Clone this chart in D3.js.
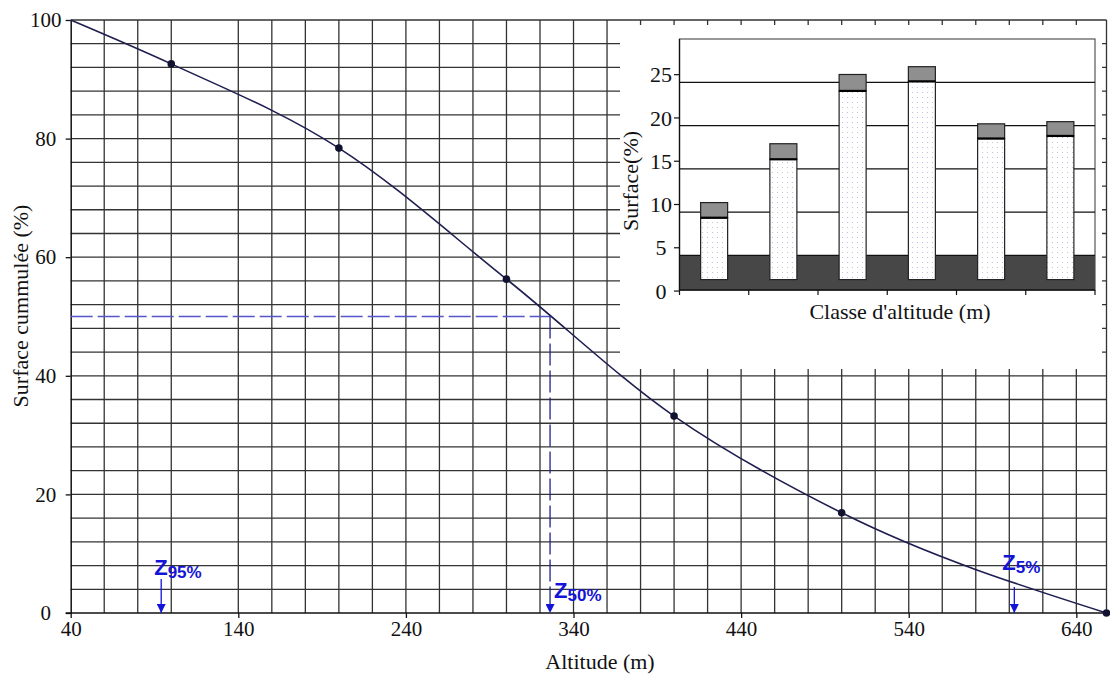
<!DOCTYPE html>
<html>
<head>
<meta charset="utf-8">
<script src="https://cdn.jsdelivr.net/npm/d3@7"></script>
<style>
body { margin: 0; background: #fff; }
svg { display: block; }
text { font-family: "Liberation Serif", "Times New Roman", serif; fill: #111; }
.zlab { font-family: "Liberation Sans", Arial, sans-serif; font-weight: bold; fill: #1414d8; }
</style>
</head>
<body>
<div id="chart"></div>
<script>
// courbe hypsométrique
var altitudes = [40, 100, 200, 300, 400, 500, 658],
    surfaceCum = [100, 92.6, 78.4, 56.3, 33.2, 16.9, 0],
    xTicks = [40, 140, 240, 340, 440, 540, 640],
    yTicks = [0, 20, 40, 60, 80, 100];

// altitudes caractéristiques
var zNames = ['95%', '50%', '5%'],
    zAltitudes = [94, 326, 603];

// histogramme de l'encart
var classes = ['40-100', '100-200', '200-300', '300-400', '400-500', '500-658'],
    lightTops = [9.35, 16.1, 24.0, 25.1, 18.5, 18.8],
    capTops = [11.1, 17.9, 25.9, 26.8, 20.2, 20.45],
    barBase = 2.2,
    floorTop = 5,
    insetGrid = [5, 10, 15, 20, 25],
    insetTicks = [0, 5, 10, 15, 20, 25];

var width = 1110, height = 677,
    svg = d3.select('#chart').append('svg').attr('width', width).attr('height', height),
    defs = svg.append('defs');

var x = d3.scaleLinear().domain([40, 658]).range([70.7, 1106.5]),
    y = d3.scaleLinear().domain([0, 100]).range([613, 20]);

defs.append('marker')
    .attr('id', 'arrow')
    .attr('viewBox', '0 0 10 10')
    .attr('refX', 10).attr('refY', 5)
    .attr('markerUnits', 'userSpaceOnUse')
    .attr('markerWidth', 9).attr('markerHeight', 9)
    .attr('orient', 'auto')
  .append('path')
    .attr('d', 'M0,0L10,5L0,10z')
    .attr('fill', '#1414d8');

var dots = defs.append('pattern')
    .attr('id', 'dots')
    .attr('patternUnits', 'userSpaceOnUse')
    .attr('width', 5).attr('height', 5);
dots.append('rect').attr('width', 5).attr('height', 5).attr('fill', '#fff');
dots.append('circle').attr('cx', 2.5).attr('cy', 2.5).attr('r', 0.6).attr('fill', '#b4b8d6');

// grille
var grid = svg.append('g').attr('stroke', '#333').attr('stroke-width', 1.3);

grid.selectAll('.v')
    .data(d3.range(60, 641, 20).filter(function(d) { return d !== 120; })) // ligne absente sur l'original
    .enter().append('line')
    .attr('class', 'v')
    .attr('x1', x).attr('x2', x)
    .attr('y1', y(0)).attr('y2', y(100));

grid.selectAll('.h')
    .data(d3.range(4, 101, 4))
    .enter().append('line')
    .attr('class', 'h')
    .attr('x1', x(40)).attr('x2', x(658))
    .attr('y1', y).attr('y2', y);

grid.append('line')
    .attr('x1', x(658)).attr('x2', x(658))
    .attr('y1', y(0)).attr('y2', y(100));

// axes
var xAxis = svg.append('g')
    .attr('transform', 'translate(0,' + y(0) + ')')
    .call(d3.axisBottom(x).tickValues(xTicks).tickSize(5).tickSizeOuter(0).tickPadding(3));
xAxis.select('.domain').remove();
xAxis.append('line')
    .attr('x1', x(40) - 5).attr('x2', x(658))
    .attr('stroke', '#111').attr('stroke-width', 1.5);

var yAxis = svg.append('g')
    .attr('transform', 'translate(' + x(40) + ',0)')
    .call(d3.axisLeft(y).tickValues(yTicks).tickSize(5).tickSizeOuter(0));
yAxis.select('.domain').attr('stroke', '#111').attr('stroke-width', 1.5);

svg.selectAll('.tick line').attr('stroke', '#111').attr('stroke-width', 1.3);
svg.selectAll('.tick text')
    .style('font-family', '"Liberation Serif", serif')
    .style('font-size', '21px')
    .attr('fill', '#111');
yAxis.selectAll('.tick text')
    .attr('text-anchor', 'middle')
    .attr('x', -25);

svg.append('text')
    .attr('x', 600).attr('y', 669)
    .attr('text-anchor', 'middle')
    .style('font-size', '22px')
    .text('Altitude (m)');

svg.append('text')
    .attr('transform', 'translate(28,306) rotate(-90)')
    .attr('text-anchor', 'middle')
    .style('font-size', '22px')
    .text('Surface cummulée (%)');

// lecture de l'altitude médiane
var zMed = zAltitudes[1];
svg.append('line')
    .attr('x1', x(40)).attr('x2', x(zMed))
    .attr('y1', y(50)).attr('y2', y(50))
    .attr('stroke', '#5555cc').attr('stroke-width', 1.3)
    .attr('stroke-dasharray', '22,5');
svg.append('line')
    .attr('x1', x(zMed)).attr('x2', x(zMed))
    .attr('y1', y(50)).attr('y2', y(0))
    .attr('stroke', '#22228a').attr('stroke-width', 1.3)
    .attr('stroke-dasharray', '22,5')
    .attr('marker-end', 'url(#arrow)');

// courbe
var pts = altitudes.map(function(a, i) { return [a, surfaceCum[i]]; });
var line = d3.line()
    .x(function(d) { return x(d[0]); })
    .y(function(d) { return y(d[1]); })
    .curve(d3.curveMonotoneX);

svg.append('path')
    .datum(pts)
    .attr('d', line)
    .attr('fill', 'none')
    .attr('stroke', '#1e1e50')
    .attr('stroke-width', 1.6);

svg.selectAll('.pt')
    .data(pts.slice(1))
    .enter().append('circle')
    .attr('class', 'pt')
    .attr('cx', function(d) { return x(d[0]); })
    .attr('cy', function(d) { return y(d[1]); })
    .attr('r', 3.8)
    .attr('fill', '#111130');

// étiquettes Z
var zLayout = [
    {dx: -7, base: 575, arrowTop: 579},
    {dx: 4, base: 598, arrowTop: null},
    {dx: -12, base: 570, arrowTop: 587}
];

zNames.forEach(function(name, i) {
    var cx = x(zAltitudes[i]),
        l = zLayout[i];
    if (l.arrowTop !== null) {
        svg.append('line')
            .attr('x1', cx).attr('x2', cx)
            .attr('y1', l.arrowTop).attr('y2', y(0))
            .attr('stroke', '#1414d8').attr('stroke-width', 1.3)
            .attr('marker-end', 'url(#arrow)');
    }
    var t = svg.append('text')
        .attr('class', 'zlab')
        .attr('x', cx + l.dx).attr('y', l.base);
    t.append('tspan').style('font-size', '22px').text('Z');
    t.append('tspan').attr('dx', 0).attr('dy', 3).style('font-size', '17px').text(name);
});

// encart : histogramme
var inset = svg.append('g');

inset.append('rect')
    .attr('x', 620).attr('y', 25)
    .attr('width', 482).attr('height', 344)
    .attr('fill', '#fff');

var xIn = d3.scaleBand().domain(classes).range([679.5, 1095]).paddingInner(0.61).paddingOuter(0.305),
    yIn = d3.scaleLinear().domain([1, 30]).range([290, 39]);

inset.append('rect')
    .attr('x', 679.5).attr('y', yIn(30))
    .attr('width', 1095 - 679.5).attr('height', yIn(1) - yIn(30))
    .attr('fill', '#fff')
    .attr('stroke', '#555').attr('stroke-width', 1.2);

inset.append('rect')
    .attr('x', 679.5).attr('y', yIn(floorTop))
    .attr('width', 1095 - 679.5).attr('height', yIn(1) - yIn(floorTop))
    .attr('fill', '#474747');

inset.selectAll('.ig')
    .data(insetGrid)
    .enter().append('line')
    .attr('class', 'ig')
    .attr('x1', 679.5).attr('x2', 1095)
    .attr('y1', yIn).attr('y2', yIn)
    .attr('stroke', '#111').attr('stroke-width', 1.3);

inset.selectAll('.bar')
    .data(classes)
    .enter().append('rect')
    .attr('class', 'bar')
    .attr('x', function(d) { return xIn(d); })
    .attr('width', xIn.bandwidth())
    .attr('y', function(d, i) { return yIn(lightTops[i]); })
    .attr('height', function(d, i) { return yIn(barBase) - yIn(lightTops[i]); })
    .attr('fill', 'url(#dots)')
    .attr('stroke', '#222').attr('stroke-width', 1.2);

inset.selectAll('.cap')
    .data(classes)
    .enter().append('rect')
    .attr('class', 'cap')
    .attr('x', function(d) { return xIn(d); })
    .attr('width', xIn.bandwidth())
    .attr('y', function(d, i) { return yIn(capTops[i]); })
    .attr('height', function(d, i) { return yIn(lightTops[i]) - yIn(capTops[i]); })
    .attr('fill', '#8f8f8f')
    .attr('stroke', '#222').attr('stroke-width', 1.2);

inset.selectAll('.capline')
    .data(classes)
    .enter().append('line')
    .attr('class', 'capline')
    .attr('x1', function(d) { return xIn(d); })
    .attr('x2', function(d) { return xIn(d) + xIn.bandwidth(); })
    .attr('y1', function(d, i) { return yIn(lightTops[i]); })
    .attr('y2', function(d, i) { return yIn(lightTops[i]); })
    .attr('stroke', '#000').attr('stroke-width', 2.2);

// axes de l'encart
inset.append('line')
    .attr('x1', 679.5).attr('x2', 1095)
    .attr('y1', yIn(1)).attr('y2', yIn(1))
    .attr('stroke', '#111').attr('stroke-width', 1.5);
inset.append('line')
    .attr('x1', 679.5).attr('x2', 679.5)
    .attr('y1', yIn(30)).attr('y2', yIn(1))
    .attr('stroke', '#111').attr('stroke-width', 1.3);

inset.selectAll('.xt')
    .data(d3.range(classes.length + 1))
    .enter().append('line')
    .attr('class', 'xt')
    .attr('x1', function(k) { return 679.5 + k * xIn.step(); })
    .attr('x2', function(k) { return 679.5 + k * xIn.step(); })
    .attr('y1', yIn(1)).attr('y2', yIn(1) + 5)
    .attr('stroke', '#111').attr('stroke-width', 1.2);

var labelShift = -7.6; // les étiquettes sont décalées par rapport à la grille
inset.selectAll('.yt')
    .data(insetTicks)
    .enter().append('line')
    .attr('class', 'yt')
    .attr('x1', 674).attr('x2', 679.5)
    .attr('y1', function(d) { return yIn(d) + labelShift; })
    .attr('y2', function(d) { return yIn(d) + labelShift; })
    .attr('stroke', '#111').attr('stroke-width', 1.2);

inset.selectAll('.ytl')
    .data(insetTicks)
    .enter().append('text')
    .attr('class', 'ytl')
    .attr('x', 661)
    .attr('y', function(d) { return yIn(d) + labelShift; })
    .attr('dy', '0.35em')
    .attr('text-anchor', 'middle')
    .style('font-size', '22px')
    .text(function(d) { return d; });

inset.append('text')
    .attr('x', 900).attr('y', 319)
    .attr('text-anchor', 'middle')
    .style('font-size', '22px')
    .text("Classe d'altitude (m)");

inset.append('text')
    .attr('transform', 'translate(638,181) rotate(-90)')
    .attr('text-anchor', 'middle')
    .style('font-size', '22px')
    .text('Surface(%)');
</script>
</body>
</html>
